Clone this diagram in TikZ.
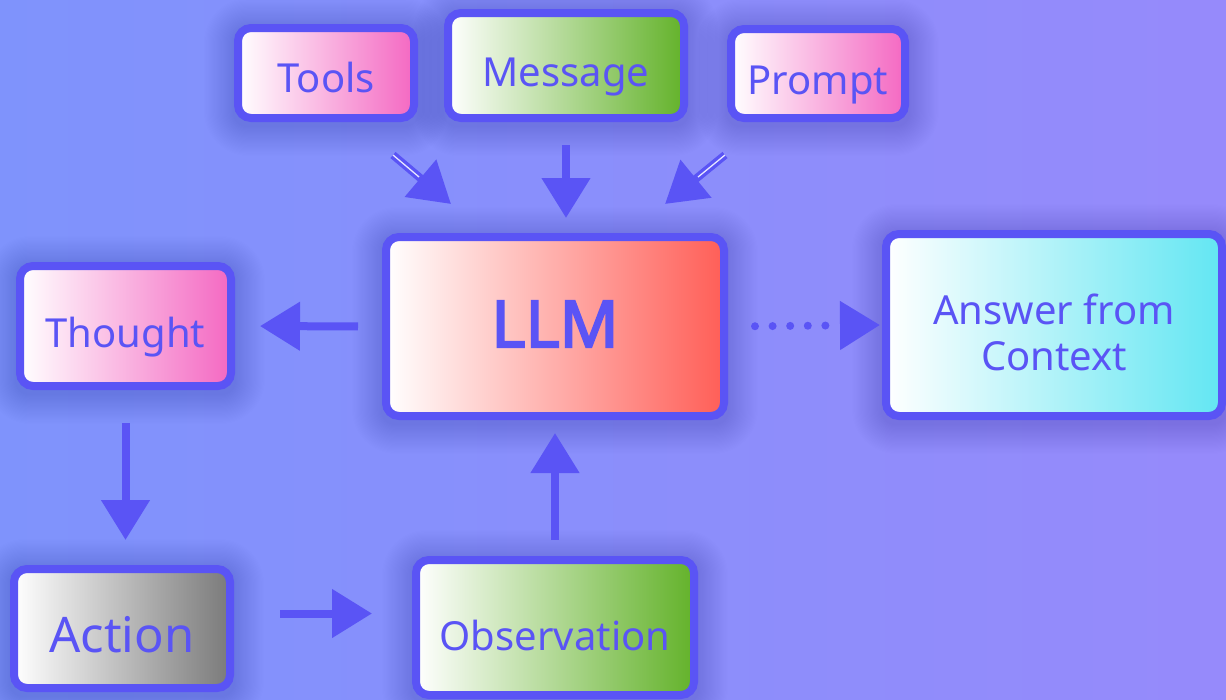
\documentclass[tikz,border=0pt]{standalone}
\usepackage{fontspec}
\setmainfont{Noto Sans}
\newfontfamily\heavyfont{Noto Sans}[FakeBold=3.2]
\usetikzlibrary{arrows.meta,calc}

\definecolor{ink}{HTML}{5A54F5}
\definecolor{bgL}{HTML}{7F93FC}
\definecolor{bgR}{HTML}{968AFB}
\definecolor{pinkC}{HTML}{F468C2}
\definecolor{greenC}{HTML}{63B22A}
\definecolor{redC}{HTML}{FF5E57}
\definecolor{cyanC}{HTML}{62E6F2}
\definecolor{grayC}{HTML}{7A7A7A}
\definecolor{core}{HTML}{E6E6FF}

\pgfdeclarelayer{backdrop}
\pgfdeclarelayer{glow}
\pgfsetlayers{backdrop,glow,main}

% soft dark halo behind a box node
\newcommand\halo[1]{%
  \begin{pgfonlayer}{glow}
    \foreach \k in {1,...,26}{%
      \pgfmathsetmacro\d{1.15*\k}
      \fill[black, fill opacity=0.0042, rounded corners=14pt+\d pt]
        ([shift={(-\d,-\d+4)}]#1.north west) rectangle ([shift={(\d,\d+4)}]#1.south east);
    }
  \end{pgfonlayer}}

\begin{document}
\begin{tikzpicture}[x=1pt,y=-1pt,
  box/.style={draw=ink, line width=8pt, rounded corners=13pt, inner sep=0pt,
    text=ink, font=\fontsize{40pt}{48pt}\selectfont, text depth=0pt},
  arr/.style={draw=ink, line width=8pt, -{Triangle[length=40pt,width=47pt]}},
  dots/.style={draw=ink, line width=8pt, line cap=round,
    dash pattern=on 0pt off 17.6pt, -{Triangle[length=40pt,width=47pt]}},
  corestroke/.style={draw=core, line width=1.3pt},
]
% background
\begin{pgfonlayer}{backdrop}
  \shade[left color=bgL, right color=bgR] (0,0) rectangle (1226,699);
\end{pgfonlayer}
\useasboundingbox (0,0) rectangle (1226,699);

% inputs
\node[box, minimum width=176pt, minimum height=90pt, left color=white, right color=pinkC,
  text height=38.6pt] (tools) at (326,73) {Tools};
\node[box, minimum width=236pt, minimum height=105pt, left color=white, right color=greenC,
  text height=42.6pt] (message) at (566,65.5) {Message};
\node[box, minimum width=174pt, minimum height=89pt, left color=white, right color=pinkC,
  text height=41.6pt] (prompt) at (818,73.5) {Prompt};

% model and answer
\node[box, minimum width=338pt, minimum height=179pt, left color=white, right color=redC,
  font=\heavyfont\fontsize{65pt}{72pt}\selectfont, text height=41.4pt] (llm) at (555,326.5) {LLM};
\node[box, minimum width=336pt, minimum height=182pt, left color=white, right color=cyanC,
  text height=46pt, text depth=48pt] (answer) at (1054,325)
  {\fontsize{40pt}{46pt}\selectfont\begin{tabular}[t]{@{}c@{}}Answer from\\Context\end{tabular}};

% reasoning loop
\node[box, minimum width=211pt, minimum height=120pt, left color=white, right color=pinkC,
  text height=42.6pt] (thought) at (125.5,326) {Thought};
\node[box, minimum width=216pt, minimum height=119pt, left color=white, right color=grayC,
  font=\fontsize{49pt}{56pt}\selectfont, text height=48pt] (action) at (122,628.5) {Action};
\node[box, minimum width=278pt, minimum height=135pt, left color=white, right color=greenC,
  text height=45.6pt] (obs) at (555,627.5) {Observation};

\halo{tools}\halo{message}\halo{prompt}\halo{llm}
\halo{answer}\halo{thought}\halo{action}\halo{obs}

% diagonal input arrows
\coordinate (tA) at ([shift={(-25,33)}]tools.south east);
\coordinate (tB) at ([shift={(69,-29)}]llm.north west);
\coordinate (pA) at ([shift={(-2,33)}]prompt.south west);
\coordinate (pB) at ([shift={(-63,-29)}]llm.north east);
\draw[arr] (tA) -- (tB);
\draw[arr] (pA) -- (pB);
\draw[corestroke] (tA) -- ($(tA)!0.45!(tB)$);
\draw[corestroke] (pA) -- ($(pA)!0.45!(pB)$);

% straight arrows
\draw[arr, shorten <=23pt, shorten >=15pt] (message.south) -- (message.south |- llm.north);
\draw[arr, shorten <=24pt, shorten >=25pt] (llm.west) -- (thought.east);
\draw[arr, shorten <=33pt, shorten >=25pt] (thought.south) -- (thought.south |- action.north);
\draw[arr, shorten <=46pt, shorten >=40pt] ([yshift=15pt]action.east) -- ([yshift=14pt]obs.west);
\draw[arr, shorten <=16pt, shorten >=13pt] (obs.north) -- (llm.south);

% dotted arrow to the answer
\draw[dots, shorten <=27pt, shorten >=2pt] (llm.east) -- (answer.west);
\end{tikzpicture}
\end{document}
